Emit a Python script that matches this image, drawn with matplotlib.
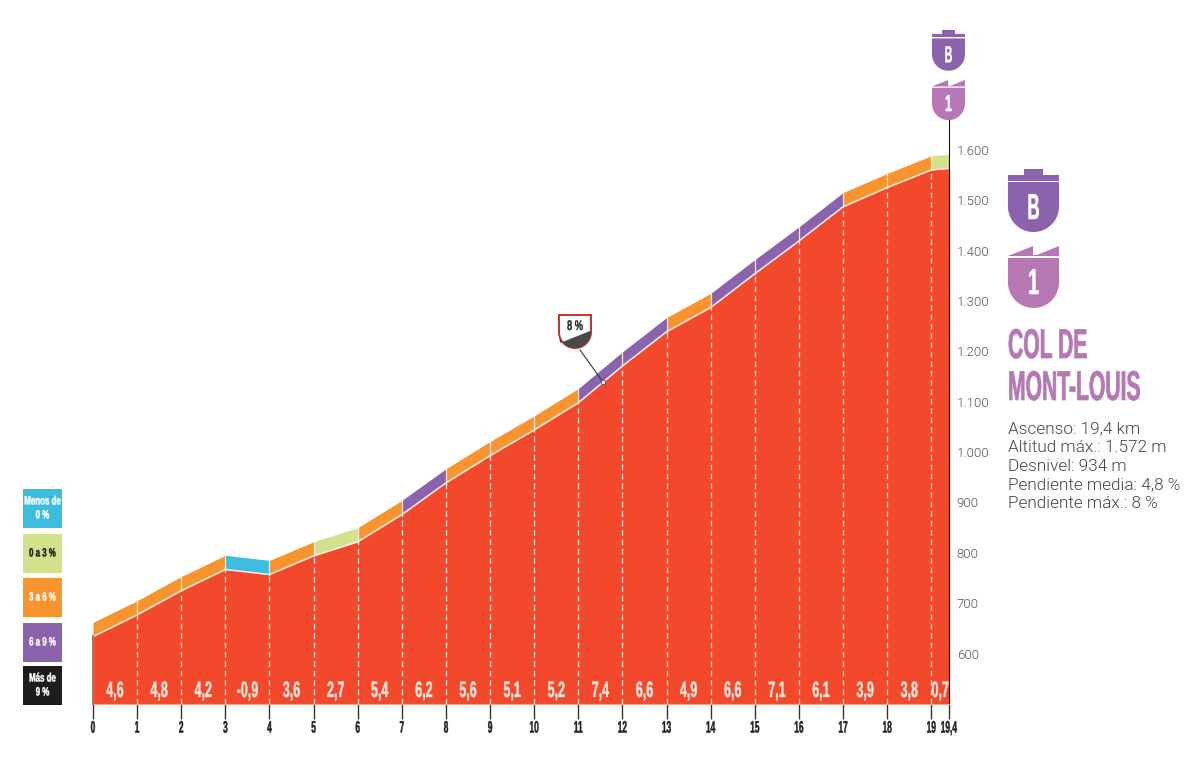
import numpy as np
import matplotlib
matplotlib.use("Agg")
import matplotlib.pyplot as plt
from matplotlib.patches import Polygon, Rectangle
from matplotlib.patheffects import AbstractPathEffect
from matplotlib.transforms import Affine2D

# profile
km = [0, 1, 2, 3, 4, 5, 6, 7, 8, 9, 10, 11, 12, 13, 14, 15, 16, 17, 18, 19, 19.4]
altitude = [634, 677, 725, 767, 757, 794, 822, 876, 939, 993, 1044, 1098, 1171, 1239,
            1287, 1354, 1419, 1487, 1525, 1560, 1563]
gradient = [4.6, 4.8, 4.2, -0.9, 3.6, 2.7, 5.4, 6.2, 5.6, 5.1, 5.2, 7.4, 6.6, 4.9,
            6.6, 7.1, 6.1, 3.9, 3.8, 0.7]
km_labels = [str(k) for k in km[:-1]] + ["19,4"]
alt_ticks = [600, 700, 800, 900, 1000, 1100, 1200, 1300, 1400, 1500, 1600]
alt_labels = ["600", "700", "800", "900", "1.000", "1.100", "1.200", "1.300", "1.400", "1.500", "1.600"]

legend_labels = ["Menos de\n0 %", "0 a 3 %", "3 a 6 %", "6 a 9 %", "Más de\n9 %"]
legend_text_colors = ["white", "#222222", "white", "white", "white"]
info_lines = ["Ascenso: 19,4 km", "Altitud máx.: 1.572 m", "Desnivel: 934 m",
              "Pendiente media: 4,8 %", "Pendiente máx.: 8 %"]
max_grade_km = 11.56

CYAN = "#3CBDE0"
GREEN = "#D3E08C"
ORANGE = "#F7942D"
PURPLE = "#8B62AC"
BLACK = "#1E1B1C"
RED = "#F2492C"
MAUVE = "#B678B4"
legend_colors = [CYAN, GREEN, ORANGE, PURPLE, BLACK]
BAND = 28  # height of the coloured strip above the profile, m


class Tall(AbstractPathEffect):
    # no condensed font installed: small font size for the width, stretched upward from the baseline
    def __init__(self, sy, stroke=0.0):
        super().__init__()
        self.sy = sy
        self.stroke = stroke

    def draw_path(self, renderer, gc, tpath, affine, rgbFace=None):
        tr = Affine2D().scale(1, self.sy) + affine
        gc0 = renderer.new_gc()
        gc0.copy_properties(gc)
        gc0.set_linewidth(self.stroke)
        gc0.set_foreground(rgbFace)
        renderer.draw_path(gc0, tpath, tr, rgbFace)
        gc0.restore()


def grade_color(g):
    if g < 0:
        return CYAN
    if g < 3:
        return GREEN
    if g < 6:
        return ORANGE
    if g < 9:
        return PURPLE
    return BLACK


NARROW = "Liberation Sans"
fig = plt.figure(figsize=(12, 7.65), dpi=100)
ax = fig.add_axes([93 / 1200, (765 - 704) / 765, (949 - 93) / 1200, (704 - 120) / 765])
ax.set_xlim(0, 19.4)
ax.set_ylim(500, 1659)
ax.patch.set_alpha(0)

km_a = np.array(km)
alt_a = np.array(altitude)
ax.fill_between(km_a, 500, alt_a, color=RED, lw=0, zorder=1)
for i, g in enumerate(gradient):
    xs = km_a[i:i + 2]
    ys = alt_a[i:i + 2]
    ax.fill_between(xs, ys, ys + BAND, color=grade_color(g), lw=0, zorder=1)
    xm = (km[i] + km[i + 1]) / 2
    ax.text(xm, 514, f"{g:.1f}".replace(".", ","), color="#FDE6DC", fontsize=9, fontweight="bold",
            family=NARROW, ha="center", va="baseline", zorder=4, path_effects=[Tall(1.78, 0.3)])
ax.plot(km_a, alt_a, color="#FBE9DF", lw=1.1, zorder=3)
for k, a in zip(km[1:-1], altitude[1:-1]):
    ax.plot([k, k], [500, a], color="#FBE9DF", lw=0.9, dashes=(4.5, 3), zorder=2)
    ax.plot([k, k], [a, a + BAND], color="#FBE9DF", lw=0.9, zorder=2)

ax.set_xticks(km)
ax.set_xticklabels(km_labels, fontsize=6, fontweight="bold", family=NARROW, color="#222222")
for t in ax.get_xticklabels():
    t.set_path_effects([Tall(2, 0.3)])
ax.tick_params(axis="x", length=11, width=1, color="#333333", pad=6)
ax.yaxis.tick_right()
ax.set_yticks(alt_ticks)
ax.set_yticklabels(alt_labels, fontsize=9.5, family="Roboto", fontweight=300, color="#555555", va="center_baseline")
ax.tick_params(axis="y", length=0, pad=5.5)
for s in ["top", "left"]:
    ax.spines[s].set_visible(False)
ax.spines["bottom"].set_color("#F5A58F")
ax.spines["right"].set_color("#111111")
ax.spines["right"].set_linewidth(0.8)
ax.plot([0, 0], [500, altitude[0]], color="#A9776E", lw=1.5, zorder=3, clip_on=False)

# everything outside the plot is placed in pixels
pax = fig.add_axes([0, 0, 1, 1], zorder=5)
pax.set_xlim(0, 1200)
pax.set_ylim(765, 0)
pax.axis("off")


def shield_points(x0, w, y_top, y_bot):
    r = w / 2
    t = np.linspace(0, np.pi, 40)
    cy = y_bot - r
    arc = np.column_stack([x0 + r + r * np.cos(t), cy + r * np.sin(t)])
    return np.vstack([[[x0 + w, y_top]], arc, [[x0, y_top]]])


def badge_b(x0, w, y0, color):
    u = w / 51
    pax.add_patch(Polygon(shield_points(x0, w, y0 + 13 * u, y0 + 63 * u), fc=color, lw=0))
    pax.add_patch(Rectangle((x0, y0 + 6 * u), w, 5.5 * u, fc=color, lw=0))
    pax.add_patch(Rectangle((x0 + 16 * u, y0), 19 * u, 7 * u, fc=color, lw=0))
    pax.text(x0 + w / 2, y0 + 50 * u, "B", color="white", fontsize=12 * u, fontweight="bold", family=NARROW,
             ha="center", va="baseline", path_effects=[Tall(2.16, 0.4 * u)])


def badge_1(x0, w, y0, color):
    u = w / 51
    pax.add_patch(Polygon(shield_points(x0, w, y0 + 12 * u, y0 + 62 * u), fc=color, lw=0))
    pax.add_patch(Polygon([(x0, y0 + 10 * u), (x0 + 25 * u, y0), (x0 + 25 * u, y0 + 9 * u), (x0 + 29 * u, y0 + 9 * u),
                           (x0 + 51 * u, y0), (x0 + 51 * u, y0 + 10 * u)], fc=color, lw=0))
    pax.text(x0 + w / 2, y0 + 48 * u, "1", color="white", fontsize=14 * u, fontweight="bold", family=NARROW,
             ha="center", va="baseline", path_effects=[Tall(1.85, 0.4 * u)])


badge_b(932, 33, 30, PURPLE)
badge_1(932, 33, 80, MAUVE)
badge_b(1008, 51, 169, PURPLE)
badge_1(1008, 51, 246, MAUVE)

# title + numbers
for txt, yy in [("COL DE", 358), ("MONT-LOUIS", 400)]:
    pax.text(1008, yy, txt, color=MAUVE, fontsize=15.2, fontweight="bold", family=NARROW, ha="left", va="baseline",
             path_effects=[Tall(1.97, 0.5)])
for i, line in enumerate(info_lines):
    pax.text(1008, 429 + i * 18.6, line, color="#444444", fontsize=12.3, family="Roboto", fontweight=300,
             ha="left", va="center")

# legend
leg_top = [489, 534, 578, 623, 666]
for y0, c, lab, tc in zip(leg_top, legend_colors, legend_labels, legend_text_colors):
    pax.add_patch(Rectangle((23, y0), 39, 39, fc=c, lw=0))
    pax.text(42.5, y0 + 21, lab, color=tc, fontsize=5.7, fontweight="bold", family=NARROW, ha="center",
             va="center", linespacing=2.4, path_effects=[Tall(1.52, 0.3)])

# 8 % marker
px = 93 + max_grade_km / 19.4 * 856
py = 704 - (np.interp(max_grade_km, km, altitude) - 500) * 584 / 1159
pax.plot([580, px], [350, py], color="#3A3A40", lw=0.8)
pax.plot([px], [py], "o", ms=3.2, mfc="white", mec="#3A3A40", mew=0.5)
outline = shield_points(559, 32, 315, 348)
pax.add_patch(Polygon(outline, fc="white", ec="#C9302C", lw=1.4))
dark = outline[(outline[:, 1] > 330)]
pax.add_patch(Polygon(np.vstack([[[590, 331]], dark[1:-1], [[560, 343]]]), fc="#48484C", lw=0))
pax.text(575, 330, "8 %", color="#222222", fontsize=6.7, fontweight="bold", family=NARROW, ha="center",
         va="baseline", path_effects=[Tall(1.5, 0.2)])

fig.savefig("out.png", dpi=100)
